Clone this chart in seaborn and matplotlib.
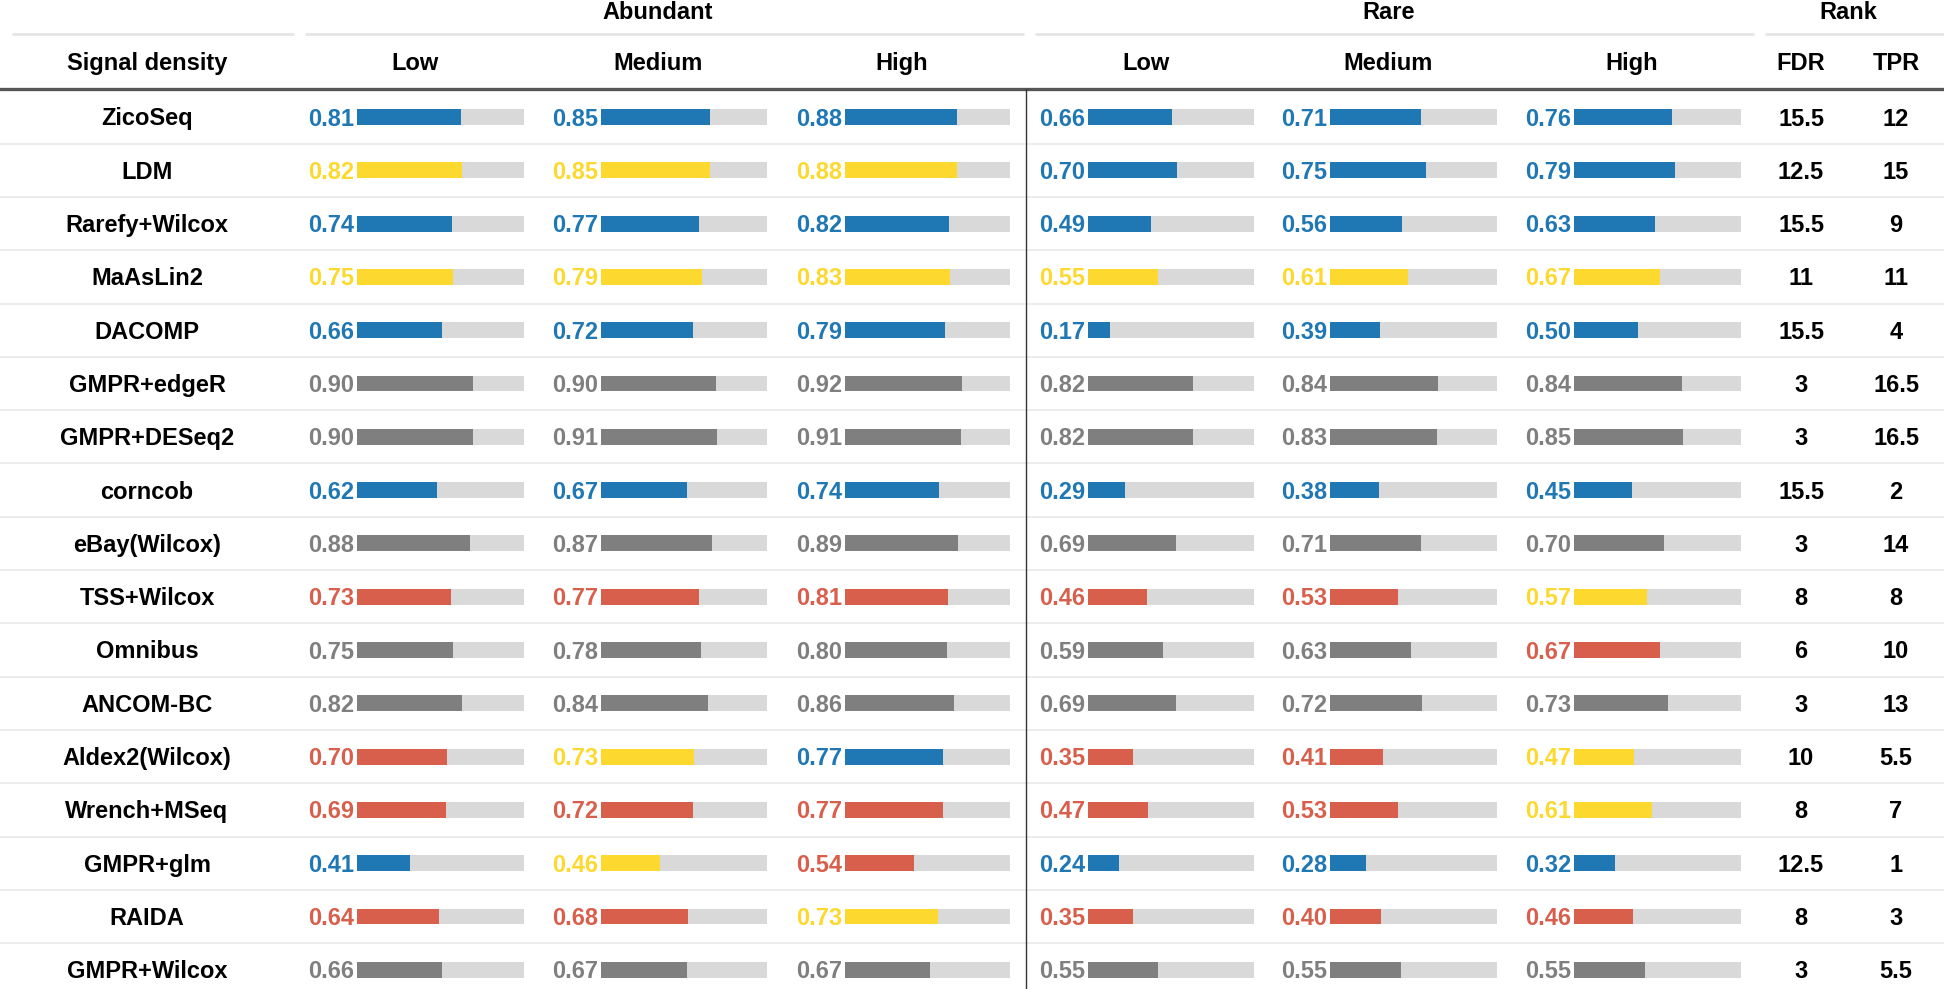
import numpy as np
import pandas as pd
import matplotlib
matplotlib.use("Agg")
import matplotlib.pyplot as plt
import seaborn as sns

# ---------------- data ----------------
methods = ["ZicoSeq", "LDM", "Rarefy+Wilcox", "MaAsLin2", "DACOMP", "GMPR+edgeR",
           "GMPR+DESeq2", "corncob", "eBay(Wilcox)", "TSS+Wilcox", "Omnibus",
           "ANCOM-BC", "Aldex2(Wilcox)", "Wrench+MSeq", "GMPR+glm", "RAIDA",
           "GMPR+Wilcox"]

abund_low = [0.81, 0.82, 0.74, 0.75, 0.66, 0.90, 0.90, 0.62, 0.88, 0.73, 0.75, 0.82, 0.70, 0.69, 0.41, 0.64, 0.66]
abund_med = [0.85, 0.85, 0.77, 0.79, 0.72, 0.90, 0.91, 0.67, 0.87, 0.77, 0.78, 0.84, 0.73, 0.72, 0.46, 0.68, 0.67]
abund_high = [0.88, 0.88, 0.82, 0.83, 0.79, 0.92, 0.91, 0.74, 0.89, 0.81, 0.80, 0.86, 0.77, 0.77, 0.54, 0.73, 0.67]
rare_low = [0.66, 0.70, 0.49, 0.55, 0.17, 0.82, 0.82, 0.29, 0.69, 0.46, 0.59, 0.69, 0.35, 0.47, 0.24, 0.35, 0.55]
rare_med = [0.71, 0.75, 0.56, 0.61, 0.39, 0.84, 0.83, 0.38, 0.71, 0.53, 0.63, 0.72, 0.41, 0.53, 0.28, 0.40, 0.55]
rare_high = [0.76, 0.79, 0.63, 0.67, 0.50, 0.84, 0.85, 0.45, 0.70, 0.57, 0.67, 0.73, 0.47, 0.61, 0.32, 0.46, 0.55]

# colour class of each cell: B=blue, Y=yellow, R=red, G=grey
abund_low_cls = list("BYBYBGGBGRGGRRBRG")
abund_med_cls = list("BYBYBGGBGRGGYRYRG")
abund_high_cls = list("BYBYBGGBGRGGBRRYG")
rare_low_cls = list("BBBYBGGBGRGGRRBRG")
rare_med_cls = list("BBBYBGGBGRGGRRBRG")
rare_high_cls = list("BBBYBGGBGYRGYYBRG")

rank_fdr = [15.5, 12.5, 15.5, 11, 15.5, 3, 3, 15.5, 3, 8, 6, 3, 10, 8, 12.5, 8, 3]
rank_tpr = [12, 15, 9, 11, 4, 16.5, 16.5, 2, 14, 8, 10, 13, 5.5, 7, 1, 3, 5.5]

groups = ["Abundant", "Rare", "Rank"]
sub_labels = ["Low", "Medium", "High"]
rank_labels = ["FDR", "TPR"]
first_header = "Signal density"
scale_max = 1.3

# ---------------- style ----------------
palette = {"B": "#1F77B4", "Y": "#FDD92F", "R": "#D95F4D", "G": "#7F7F7F"}
bg_grey = "#D9D9D9"
sep_grey = "#ECECEC"

sns.set_theme(style="white")
plt.rcParams["font.family"] = ["Liberation Sans", "DejaVu Sans"]
plt.rcParams["font.weight"] = "bold"

W, H = 1944, 989
fig = plt.figure(figsize=(W / 100, H / 100), dpi=100)
fig.patch.set_facecolor("white")

# layout (pixels)
row0, row_h = 117.0, 53.3
top_rule = 89.0
bar_spans = [(357, 524), (601, 767), (845, 1010), (1088, 1254), (1330, 1497), (1574, 1741)]
label_cx = 147
rank_cx = [1801, 1896]
fs = 17

def ypx(i):
    return row0 + row_h * i

# overlay axes in pixel coordinates
ax0 = fig.add_axes([0, 0, 1, 1])
ax0.set_xlim(0, W)
ax0.set_ylim(H, 0)
ax0.axis("off")

# separators between rows
for i in range(len(methods) - 1):
    ax0.plot([0, W], [ypx(i + 0.5)] * 2, color=sep_grey, lw=1.3, zorder=0)
# group rules
for x0, x1 in [(13, 293), (306, 1023), (1036, 1753), (1766, W)]:
    ax0.plot([x0, x1], [34, 34], color="#E6E6E6", lw=2.0, zorder=0)
# thick header rule
ax0.plot([0, W], [top_rule, top_rule], color="#555555", lw=2.4, zorder=3)
# vertical divider
ax0.plot([1026, 1026], [top_rule, H], color="#333333", lw=1.0, zorder=3)

# headers
group_cx = [(bar_spans[0][0] - 51 + bar_spans[2][1]) / 2,
            (bar_spans[3][0] - 51 + bar_spans[5][1]) / 2,
            sum(rank_cx) / 2]
for g, cx in zip(groups, group_cx):
    ax0.text(cx, 19, g, ha="center", va="baseline", fontsize=fs, fontweight="bold", color="black")
ax0.text(label_cx, 70, first_header, ha="center", va="baseline", fontsize=fs, fontweight="bold", color="black")
for k, (x0, x1) in enumerate(bar_spans):
    ax0.text((x0 - 51 + x1) / 2, 70, sub_labels[k % 3], ha="center", va="baseline",
             fontsize=fs, fontweight="bold", color="black")
for lab, cx in zip(rank_labels, rank_cx):
    ax0.text(cx, 70, lab, ha="center", va="baseline", fontsize=fs, fontweight="bold", color="black")

# row labels and ranks
for i, m in enumerate(methods):
    ax0.text(label_cx, ypx(i) + 8.5, m, ha="center", va="baseline", fontsize=fs,
             fontweight="bold", color="black")
    ax0.text(rank_cx[0], ypx(i) + 8.5, f"{rank_fdr[i]:g}", ha="center", va="baseline",
             fontsize=fs, fontweight="bold", color="black")
    ax0.text(rank_cx[1], ypx(i) + 8.5, f"{rank_tpr[i]:g}", ha="center", va="baseline",
             fontsize=fs, fontweight="bold", color="black")

# bar columns
columns = [(abund_low, abund_low_cls), (abund_med, abund_med_cls), (abund_high, abund_high_cls),
           (rare_low, rare_low_cls), (rare_med, rare_med_cls), (rare_high, rare_high_cls)]
ax_top_px = top_rule + 1.35
n_rows_visible = (H - ax_top_px) / row_h
for (x0, x1), (vals, cls) in zip(bar_spans, columns):
    ax = fig.add_axes([x0 / W, 0, (x1 - x0) / W, 1 - ax_top_px / H])
    df = pd.DataFrame({"method": methods, "value": vals, "cls": cls,
                       "full": [scale_max] * len(methods)})
    sns.barplot(data=df, y="method", x="full", order=methods, color=bg_grey,
                saturation=1, width=0.3, ax=ax, orient="h", linewidth=0)
    sns.barplot(data=df, y="method", x="value", order=methods, hue="cls", palette=palette,
                saturation=1, width=0.3, ax=ax, orient="h", dodge=False, legend=False, linewidth=0)
    ax.set_xlim(0, scale_max)
    ax.set_ylim(-0.5 + n_rows_visible, -0.5)
    ax.axis("off")
    for i, (v, c) in enumerate(zip(vals, cls)):
        ax.annotate(f"{v:.2f}", xy=(0, i), xytext=(-3, -8.5), textcoords="offset pixels",
                    ha="right", va="baseline", fontsize=fs, fontweight="bold",
                    color=palette[c], annotation_clip=False)

fig.savefig("out.png", dpi=100, facecolor="white")
